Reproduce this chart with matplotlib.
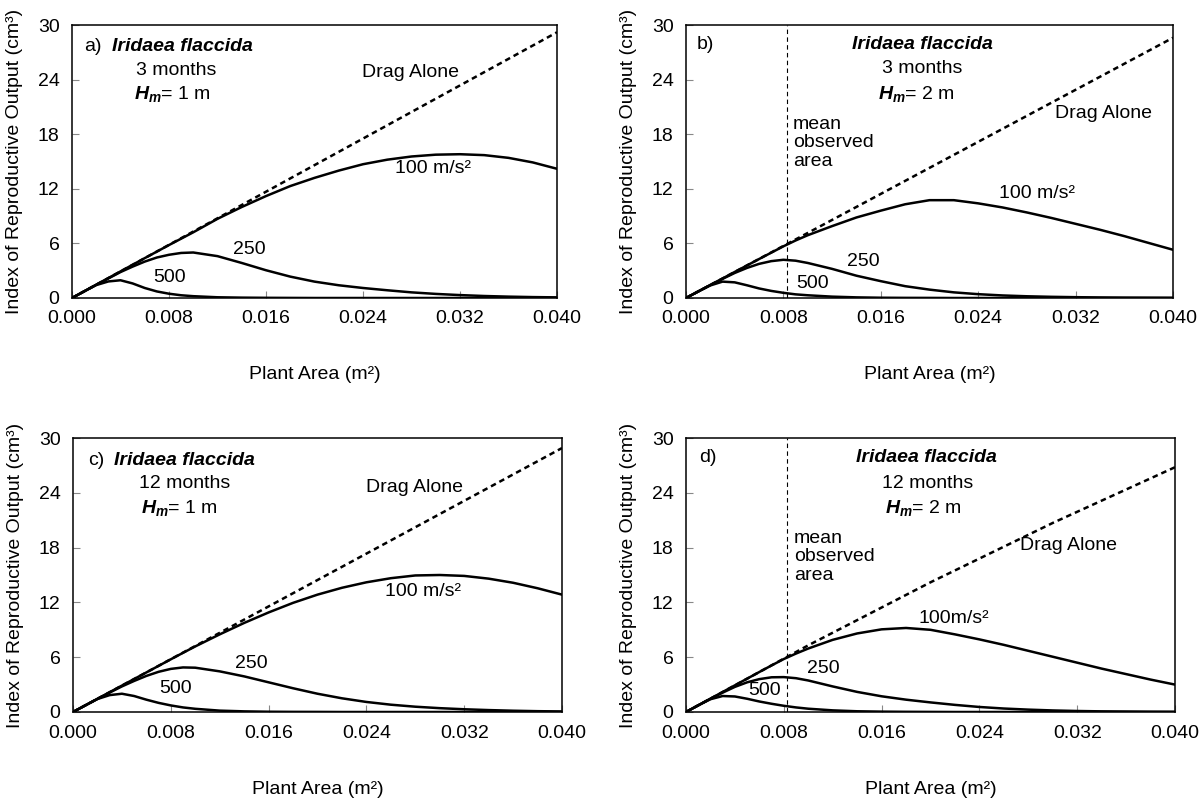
import matplotlib
matplotlib.use("Agg")
import matplotlib.pyplot as plt

plt.rcParams["font.family"] = ["Liberation Sans", "DejaVu Sans"]
plt.rcParams["mathtext.fontset"] = "custom"
plt.rcParams["mathtext.rm"] = "Liberation Sans"
plt.rcParams["mathtext.it"] = "Liberation Sans:italic:bold"

# plant area grid (m^2) shared by all modelled curves
AREA = [0.000, 0.001, 0.002, 0.003, 0.004, 0.005, 0.006, 0.007, 0.008, 0.009,
        0.010, 0.012, 0.014, 0.016, 0.018, 0.020, 0.022, 0.024, 0.026, 0.028,
        0.030, 0.032, 0.034, 0.036, 0.038, 0.040]

# a) 3 months, Hm = 1 m
A_DRAG_X = [0.0, 0.040]
A_DRAG = [0.0, 29.2]
A_100 = [0, .73, 1.46, 2.19, 2.92, 3.65, 4.38, 5.1, 5.82, 6.52, 7.22, 8.7, 10.0,
         11.2, 12.3, 13.2, 14.0, 14.7, 15.2, 15.55, 15.75, 15.8, 15.7, 15.4, 14.9, 14.2]
A_250 = [0, .73, 1.46, 2.15, 2.85, 3.45, 4.0, 4.45, 4.75, 4.95, 5.0, 4.6, 3.85,
         3.05, 2.35, 1.8, 1.4, 1.1, 0.85, 0.62, 0.45, 0.32, 0.22, 0.15, 0.1, 0.07]
A_500 = [0, .73, 1.42, 1.82, 1.95, 1.6, 1.1, 0.72, 0.47, 0.3, 0.2, 0.08, 0.04,
         0.02, 0.01, 0, 0, 0, 0, 0, 0, 0, 0, 0, 0, 0]

# b) 3 months, Hm = 2 m
B_DRAG_X = [0.0, 0.040]
B_DRAG = [0.0, 28.6]
B_100 = [0, .715, 1.43, 2.14, 2.86, 3.57, 4.28, 4.98, 5.68, 6.32, 6.9, 7.9, 8.85,
         9.6, 10.3, 10.75, 10.75, 10.4, 9.95, 9.4, 8.8, 8.15, 7.5, 6.8, 6.05, 5.3]
B_250 = [0, .715, 1.43, 2.1, 2.75, 3.3, 3.75, 4.05, 4.2, 4.1, 3.85, 3.2, 2.45,
         1.85, 1.3, 0.92, 0.62, 0.42, 0.28, 0.19, 0.13, 0.09, 0.06, 0.04, 0.03, 0.02]
B_500 = [0, .715, 1.38, 1.8, 1.72, 1.4, 1.05, 0.78, 0.57, 0.4, 0.3, 0.15, 0.07,
         0.03, 0.015, 0.01, 0, 0, 0, 0, 0, 0, 0, 0, 0, 0]

# c) 12 months, Hm = 1 m
C_DRAG_X = [0.0, 0.040]
C_DRAG = [0.0, 28.9]
C_100 = [0, .72, 1.44, 2.17, 2.89, 3.61, 4.33, 5.05, 5.77, 6.48, 7.18, 8.5, 9.75,
         10.9, 11.95, 12.85, 13.6, 14.2, 14.65, 14.95, 15.0, 14.9, 14.6, 14.15, 13.55, 12.85]
C_250 = [0, .72, 1.44, 2.13, 2.8, 3.4, 3.95, 4.4, 4.72, 4.88, 4.85, 4.45, 3.9,
         3.25, 2.6, 2.0, 1.5, 1.1, 0.8, 0.58, 0.42, 0.3, 0.21, 0.14, 0.09, 0.06]
C_500 = [0, .72, 1.42, 1.85, 2.0, 1.75, 1.35, 1.0, 0.72, 0.5, 0.35, 0.15, 0.07,
         0.03, 0.015, 0.01, 0, 0, 0, 0, 0, 0, 0, 0, 0, 0]

# d) 12 months, Hm = 2 m
D_DRAG_X = [0.0, 0.010, 0.020, 0.030, 0.040]
D_DRAG = [0.0, 7.3, 14.2, 20.7, 26.8]
D_100 = [0, .73, 1.46, 2.19, 2.92, 3.65, 4.38, 5.1, 5.8, 6.4, 6.95, 7.9, 8.6,
         9.05, 9.2, 9.0, 8.5, 7.95, 7.35, 6.7, 6.05, 5.4, 4.75, 4.15, 3.55, 3.0]
D_250 = [0, .73, 1.45, 2.12, 2.75, 3.25, 3.6, 3.8, 3.82, 3.7, 3.45, 2.8, 2.2,
         1.72, 1.35, 1.05, 0.78, 0.55, 0.38, 0.26, 0.17, 0.11, 0.07, 0.05, 0.03, 0.02]
D_500 = [0, .73, 1.4, 1.75, 1.7, 1.45, 1.15, 0.9, 0.68, 0.5, 0.36, 0.18, 0.08,
         0.04, 0.02, 0.01, 0, 0, 0, 0, 0, 0, 0, 0, 0, 0]

MEAN_AREA = 0.0083  # mean observed area, panels b and d

X_TICKS = [0.000, 0.008, 0.016, 0.024, 0.032, 0.040]
Y_TICKS = [0, 6, 12, 18, 24, 30]

FS = 14


def draw_panel(ax, drag_x, drag, c100, c250, c500, mean_line):
    ax.plot(drag_x, drag, color="black", lw=1.8, ls=(0, (2.2, 1.6)))
    for c in (c100, c250, c500):
        ax.plot(AREA, c, color="black", lw=1.8)
    if mean_line:
        ax.axvline(MEAN_AREA, color="black", lw=0.8, ls=(0, (4, 3)))
    ax.set_xlim(0, 0.040)
    ax.set_ylim(0, 30)
    ax.set_xticks(X_TICKS)
    ax.set_xticklabels([f"{t:.3f}" for t in X_TICKS])
    ax.set_yticks(Y_TICKS)
    ax.tick_params(direction="in", length=5, width=0.8, color="#888888",
                   labelsize=FS, pad=9)
    for s in ax.spines.values():
        s.set_linewidth(1.1)
    ax.set_xlabel("Plant Area (m²)", fontsize=FS)
    ax.set_ylabel("Index of Reproductive Output (cm³)", fontsize=FS)
    ax.xaxis.set_label_coords(0.5, -0.25)
    ax.yaxis.set_label_coords(-0.1, 0.5)


def txt(ax, x, y, s, ha="center", **kw):
    ax.text(x, y, s, transform=ax.transAxes, ha=ha, va="center",
            fontsize=FS, **kw)


fig = plt.figure(figsize=(12.04, 7.99), dpi=100)
W, H = 1204, 799
ax_a = fig.add_axes([72 / W, (H - 298) / H, 485 / W, 273 / H])
ax_b = fig.add_axes([686 / W, (H - 298) / H, 487 / W, 273 / H])
ax_c = fig.add_axes([73 / W, (H - 712) / H, 489 / W, 274 / H])
ax_d = fig.add_axes([686 / W, (H - 712) / H, 489 / W, 274 / H])

draw_panel(ax_a, A_DRAG_X, A_DRAG, A_100, A_250, A_500, False)
draw_panel(ax_b, B_DRAG_X, B_DRAG, B_100, B_250, B_500, True)
draw_panel(ax_c, C_DRAG_X, C_DRAG, C_100, C_250, C_500, False)
draw_panel(ax_d, D_DRAG_X, D_DRAG, D_100, D_250, D_500, True)

bi = dict(fontstyle="italic", fontweight="bold")

# a)
txt(ax_a, 0.025, 0.92, "a)", ha="left")
txt(ax_a, 0.083, 0.92, "Iridaea flaccida", ha="left", **bi)
txt(ax_a, 0.214, 0.835, "3 months")
txt(ax_a, 0.206, 0.749, r"$H_m$= 1 m")
txt(ax_a, 0.697, 0.825, "Drag Alone")
txt(ax_a, 0.744, 0.474, "100 m/s²")
txt(ax_a, 0.366, 0.177, "250")
txt(ax_a, 0.202, 0.075, "500")

# b)
txt(ax_b, 0.021, 0.927, "b)", ha="left")
txt(ax_b, 0.486, 0.927, "Iridaea flaccida", **bi)
txt(ax_b, 0.486, 0.841, "3 months")
txt(ax_b, 0.474, 0.749, r"$H_m$= 2 m")
txt(ax_b, 0.857, 0.676, "Drag Alone")
txt(ax_b, 0.219, 0.568, "mean\nobserved\narea", ha="left", linespacing=1.1)
txt(ax_b, 0.72, 0.383, "100 m/s²")
txt(ax_b, 0.365, 0.132, "250")
txt(ax_b, 0.259, 0.053, "500")

# c)
txt(ax_c, 0.031, 0.918, "c)", ha="left")
txt(ax_c, 0.084, 0.918, "Iridaea flaccida", ha="left", **bi)
txt(ax_c, 0.229, 0.833, "12 months")
txt(ax_c, 0.217, 0.746, r"$H_m$= 1 m")
txt(ax_c, 0.698, 0.819, "Drag Alone")
txt(ax_c, 0.716, 0.438, "100 m/s²")
txt(ax_c, 0.365, 0.176, "250")
txt(ax_c, 0.209, 0.085, "500")

# d)
txt(ax_d, 0.026, 0.93, "d)", ha="left")
txt(ax_d, 0.492, 0.93, "Iridaea flaccida", **bi)
txt(ax_d, 0.494, 0.833, "12 months")
txt(ax_d, 0.486, 0.746, r"$H_m$= 2 m")
txt(ax_d, 0.782, 0.606, "Drag Alone")
txt(ax_d, 0.221, 0.566, "mean\nobserved\narea", ha="left", linespacing=1.1)
txt(ax_d, 0.548, 0.341, "100m/s²")
txt(ax_d, 0.281, 0.158, "250")
txt(ax_d, 0.16, 0.079, "500")

fig.savefig("out.png", dpi=100)
